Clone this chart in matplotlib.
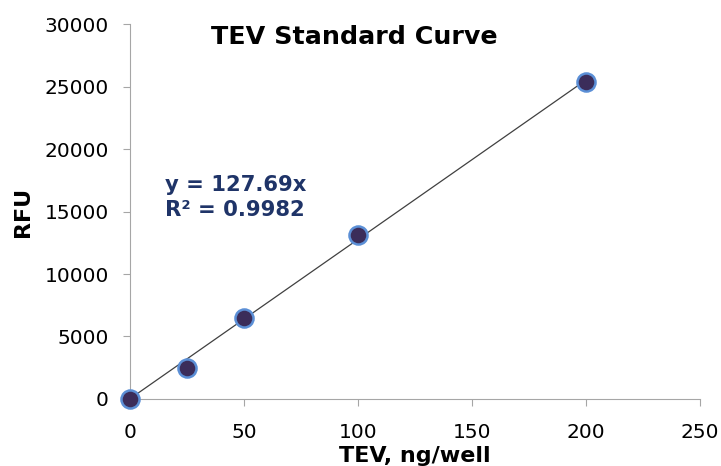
import matplotlib
matplotlib.use("Agg")
import matplotlib.pyplot as plt
import numpy as np

# data
tev = [0, 25, 50, 100, 200]
rfu = [0, 2480, 6470, 13130, 25350]
slope = 127.69
r2 = 0.9982

plt.rcParams['font.family'] = ['DejaVu Sans']

fig = plt.figure(figsize=(7.21, 4.66), dpi=100)
ax = fig.add_axes([0.180, 0.144, 0.791, 0.804])

xs = np.array([0, 200])
ax.plot(xs, slope * xs, color='#404040', lw=0.9, zorder=2)
ax.plot(tev, rfu, 'o', ms=13, mfc='#3b2d5a', mec='#5b8fd6', mew=1.8, zorder=3, clip_on=False)

ax.set_xlim(0, 250)
ax.set_ylim(0, 30000)
ax.set_xticks(range(0, 251, 50))
ax.set_yticks(range(0, 30001, 5000))
for s in ['top', 'right']:
    ax.spines[s].set_visible(False)
for s in ['left', 'bottom']:
    ax.spines[s].set_color('#a6a6a6')
ax.tick_params(colors='#a6a6a6', labelcolor='black', labelsize=14.5, length=5, direction='out')
ax.tick_params(axis='y', pad=10)
ax.tick_params(axis='x', pad=12)

ax.set_xlabel('TEV, ng/well', fontsize=16, fontweight='bold', labelpad=3)
ax.set_ylabel('RFU', fontsize=16, fontweight='bold', labelpad=8)
ax.set_title('TEV Standard Curve', fontsize=18.3, fontweight='bold', x=0.393, y=0.925)

ax.text(0.061, 0.598, 'y = %.2fx\nR² = %.4f' % (slope, r2), transform=ax.transAxes,
        fontsize=15.2, fontweight='bold', color='#1f3468', linespacing=1.3, va='top')

fig.savefig('out.png', dpi=100)
